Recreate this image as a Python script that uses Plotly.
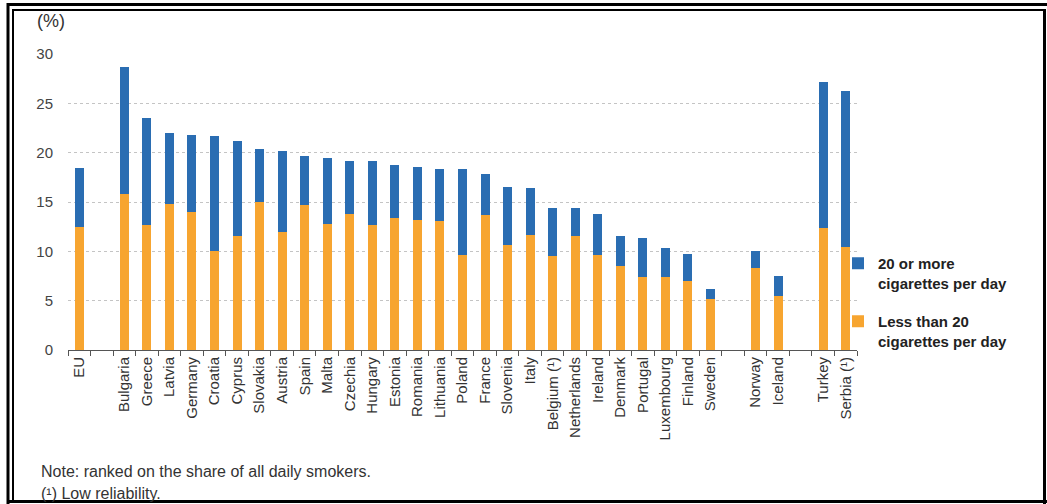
import plotly.graph_objects as go

# ---- data ----
categories = ["EU", " ", "Bulgaria", "Greece", "Latvia", "Germany", "Croatia", "Cyprus",
              "Slovakia", "Austria", "Spain", "Malta", "Czechia", "Hungary", "Estonia",
              "Romania", "Lithuania", "Poland", "France", "Slovenia", "Italy",
              "Belgium (¹)", "Netherlands", "Ireland", "Denmark", "Portugal",
              "Luxembourg", "Finland", "Sweden", "  ", "Norway", "Iceland", "   ",
              "Turkey", "Serbia (¹)"]

less_than_20 = [12.5, None, 15.8, 12.7, 14.8, 13.95, 10.0, 11.55, 15.0, 12.0, 14.65, 12.8,
                13.8, 12.7, 13.35, 13.2, 13.1, 9.65, 13.7, 10.65, 11.7, 9.5, 11.6, 9.65,
                8.5, 7.4, 7.4, 7.0, 5.15, None, 8.3, 5.45, None, 12.4, 10.4]

twenty_or_more = [5.9, None, 12.85, 10.85, 7.2, 7.85, 11.7, 9.65, 5.35, 8.2, 5.0, 6.65,
                  5.4, 6.5, 5.4, 5.35, 5.2, 8.65, 4.1, 5.85, 4.7, 4.9, 2.8, 4.1,
                  3.1, 4.0, 2.95, 2.75, 1.0, None, 1.75, 2.05, None, 14.75, 15.8]

series_names = ["Less than 20<br>cigarettes per day", "20 or more<br>cigarettes per day"]
legend_ranks = [2, 1]
colors = ["#F7A530", "#2A6DB2"]
y_ticks = [0, 5, 10, 15, 20, 25, 30]

# ---- layout geometry (pixels) ----
W, H = 1047, 504
L, R, T, B = 68, 857, 54, 350


def px(x):
    return (x - L) / (R - L)


def py(y):
    return (B - y) / (B - T)


fig = go.Figure()
for name, vals, col, rank in zip(series_names, [less_than_20, twenty_or_more], colors, legend_ranks):
    fig.add_trace(go.Bar(
        x=categories, y=vals, name=name, marker_color=col,
        marker_line_width=0, legendgroup=name, legendrank=rank,
    ))

shapes = []
black = "#000000"
# outer frame
shapes.append(dict(type="line", xref="paper", yref="paper", x0=px(7), x1=px(1047), y0=py(4.5), y1=py(4.5), line=dict(color=black, width=3)))
shapes.append(dict(type="line", xref="paper", yref="paper", x0=px(8), x1=px(8), y0=py(3), y1=py(504), line=dict(color=black, width=3)))
shapes.append(dict(type="line", xref="paper", yref="paper", x0=px(7), x1=px(1047), y0=py(501.5), y1=py(501.5), line=dict(color=black, width=3)))
shapes.append(dict(type="line", xref="paper", yref="paper", x0=px(1044.5), x1=px(1044.5), y0=py(9), y1=py(504), line=dict(color=black, width=3)))
# inner frame
shapes.append(dict(type="line", xref="paper", yref="paper", x0=px(12), x1=px(1044), y0=py(10), y1=py(10), line=dict(color=black, width=2)))
shapes.append(dict(type="line", xref="paper", yref="paper", x0=px(13), x1=px(13), y0=py(10), y1=py(500), line=dict(color=black, width=2)))

annotations = [
    dict(text="(%)", xref="paper", yref="paper", x=px(51), y=py(21), showarrow=False,
         xanchor="center", yanchor="middle", font=dict(size=18, color="#333333")),
    dict(text="Note: ranked on the share of all daily smokers.", xref="paper", yref="paper",
         x=px(39), y=py(471), showarrow=False, xanchor="left", yanchor="middle",
         font=dict(size=16, color="#333333")),
    dict(text="(¹) Low reliability.", xref="paper", yref="paper",
         x=px(39), y=py(493), showarrow=False, xanchor="left", yanchor="middle",
         font=dict(size=16, color="#333333")),
]

fig.update_layout(
    width=W, height=H,
    margin=dict(l=L, r=W - R, t=T, b=H - B, pad=0),
    paper_bgcolor="white", plot_bgcolor="white",
    barmode="stack", bargap=0.6,
    font=dict(family="Liberation Sans, Arial, sans-serif", color="#333333"),
    showlegend=True,
    legend=dict(x=px(838), y=py(247), xanchor="left", yanchor="top",
                traceorder="grouped", tracegroupgap=16, valign="top",
                font=dict(size=15, color="#222222", weight="bold"),
                bgcolor="rgba(0,0,0,0)"),
    shapes=shapes, annotations=annotations,
    xaxis=dict(type="category", categoryorder="array", categoryarray=categories,
               tickson="boundaries", ticks="outside", ticklen=5, tickcolor="#555555",
               showline=True, linecolor="#555555", linewidth=1, tickangle=-90,
               tickfont=dict(size=15, color="#333333"), showgrid=False,
               range=[-0.5, len(categories) - 0.5]),
    yaxis=dict(range=[0, 30], tickvals=y_ticks, showgrid=True, gridcolor="#c4c4c4",
               griddash="dot", gridwidth=1, zeroline=False, showline=False,
               ticks="", ticklabelstandoff=14, tickfont=dict(size=15, color="#444444")),
)

fig.write_html("out.html")
